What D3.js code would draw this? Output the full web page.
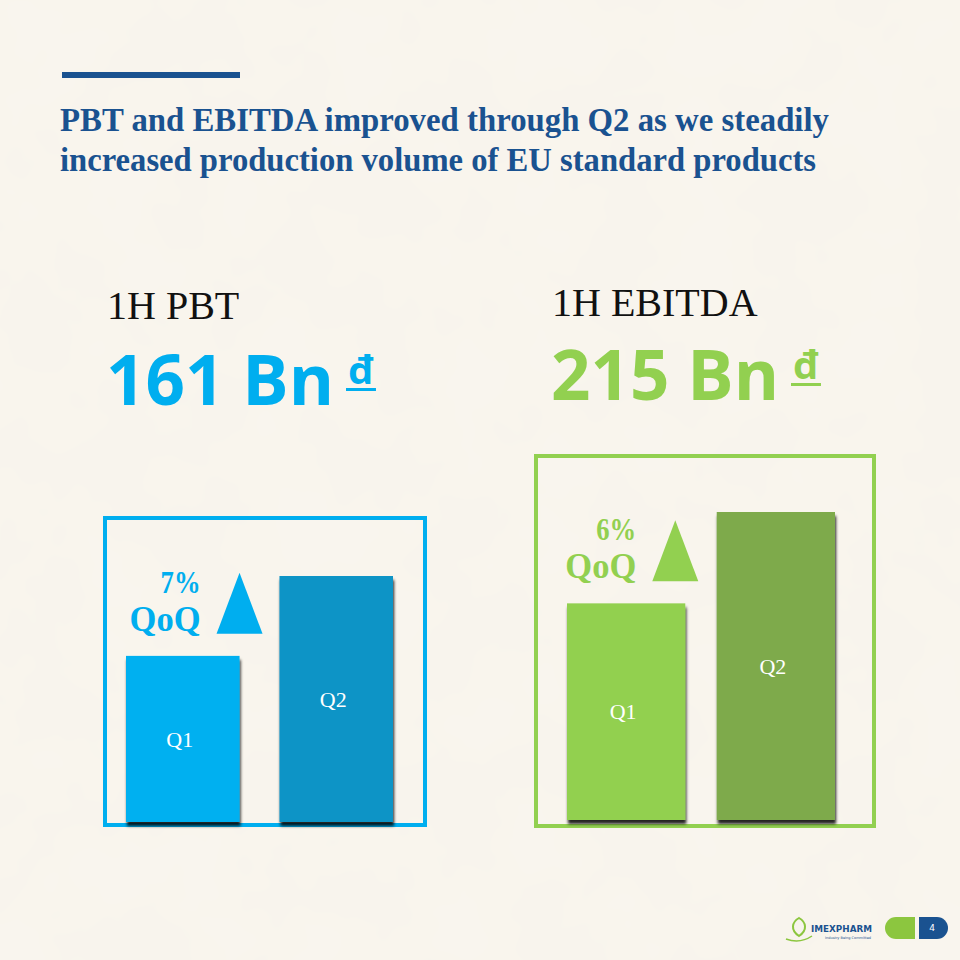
<!DOCTYPE html>
<html>
<head>
<meta charset="utf-8">
<script src="https://cdn.jsdelivr.net/npm/d3@7"></script>
<style>
  html, body { margin: 0; padding: 0; background: #f8f4ec; }
  svg { display: block; }
</style>
</head>
<body>
<div id="chart"></div>
<script>
// data
const quarters = ["Q1", "Q2"];
const pbtValues = [78, 83];        // Bn VND per quarter
const ebitdaValues = [104, 111];
const totals = ["161", "215"];
const headings = ["1H PBT", "1H EBITDA"];
const growthLabels = ["7%", "6%"];
const titleLines = [
    "PBT and EBITDA improved through Q2 as we steadily",
    "increased production volume of EU standard products"
];

const width = 960, height = 960;
const svg = d3.select("#chart")
    .append("svg")
    .attr("width", width)
    .attr("height", height)
    .attr("viewBox", [0, 0, width, height])
;

const defs = svg.append("defs");

// paper texture
const paper = defs.append("filter").attr("id", "paper")
    .attr("x", 0).attr("y", 0).attr("width", "100%").attr("height", "100%");
paper.append("feTurbulence")
    .attr("type", "fractalNoise")
    .attr("baseFrequency", 0.012)
    .attr("numOctaves", 3)
    .attr("seed", 4)
    .attr("result", "noise");
paper.append("feColorMatrix")
    .attr("in", "noise")
    .attr("type", "matrix")
    .attr("values", "0 0 0 0 0.85  0 0 0 0 0.82  0 0 0 0 0.72  0 0 0 0.08 0");

// bar shadow
const shadow = defs.append("filter").attr("id", "shadow")
    .attr("x", "-10%").attr("y", "-10%").attr("width", "120%").attr("height", "125%");
shadow.append("feDropShadow")
    .attr("dx", 1).attr("dy", 4)
    .attr("stdDeviation", 1.5)
    .attr("flood-color", "#000")
    .attr("flood-opacity", 0.85);

svg.append("rect")
    .attr("width", width).attr("height", height)
    .attr("fill", "#f9f5ee");
svg.append("rect")
    .attr("width", width).attr("height", height)
    .attr("filter", "url(#paper)");

// title block
svg.append("rect")
    .attr("x", 62).attr("y", 72)
    .attr("width", 178).attr("height", 6)
    .attr("fill", "#1a5290");

svg.selectAll("text.title")
    .data(titleLines)
    .enter()
    .append("text")
    .attr("class", "title")
    .attr("x", 60)
    .attr("y", (d, i) => 131 + i * 40)
    .attr("textLength", (d, i) => i === 0 ? 769 : 756)
    .attr("lengthAdjust", "spacingAndGlyphs")
    .style("font-family", "'Liberation Serif', 'DejaVu Serif', serif")
    .style("font-weight", "bold")
    .style("font-size", "34px")
    .style("fill", "#1a5290")
    .text(d => d)
;

const serif = "'Liberation Serif', 'DejaVu Serif', serif";
const sans = "'Open Sans', 'Noto Sans', sans-serif";

const panels = [
    {
        values: pbtValues, total: totals[0], heading: headings[0], growth: growthLabels[0],
        colors: ["#00b0f0", "#0f94c6"], accent: "#00aeef",
        box: [105, 518, 425, 825], xRange: [126, 393], padInner: 0.26,
        baseY: 822, floor: 67.6, top: 576, triOffset: 0,
        headX: 107, headY: 319, bigY: 405
    },
    {
        values: ebitdaValues, total: totals[1], heading: headings[1], growth: growthLabels[1],
        colors: ["#92d050", "#7eaa4b"], accent: "#92d050",
        box: [536, 456, 874, 826], xRange: [567, 835], padInner: 0.21,
        baseY: 820, floor: 87.4, top: 512, triOffset: -10,
        headX: 552, headY: 316, bigY: 400
    }
];

panels.forEach(p => {
    const g = svg.append("g");

    const x = d3.scaleBand()
        .domain(quarters)
        .range(p.xRange)
        .paddingInner(p.padInner)
        .paddingOuter(0);

    // value axis is truncated on the slide, so the floor is not zero
    const y = d3.scaleLinear()
        .domain([p.floor, d3.max(p.values)])
        .range([p.baseY, p.top]);

    g.append("text")
        .attr("x", p.headX).attr("y", p.headY)
        .style("font-family", serif)
        .style("font-size", "40px")
        .style("fill", "#111")
        .text(p.heading);

    const big = g.append("text")
        .attr("x", p.headX - 1).attr("y", p.bigY)
        .style("font-family", sans)
        .style("font-weight", "bold")
        .style("font-size", "69px")
        .style("fill", p.accent)
        .text(p.total + " Bn");

    const bigW = big.node().getComputedTextLength();
    const dx = p.headX - 1 + bigW + 14;
    const dong = g.append("text")
        .attr("x", dx).attr("y", p.bigY - 21)
        .style("font-family", sans)
        .style("font-weight", "bold")
        .style("font-size", "40px")
        .style("fill", p.accent)
        .text("đ");
    const dw = dong.node().getComputedTextLength();
    g.append("rect")
        .attr("x", dx - 2).attr("y", p.bigY - 17)
        .attr("width", dw + 4).attr("height", 3)
        .attr("fill", p.accent);

    // frame
    g.append("rect")
        .attr("x", p.box[0]).attr("y", p.box[1])
        .attr("width", p.box[2] - p.box[0])
        .attr("height", p.box[3] - p.box[1])
        .attr("fill", "none")
        .attr("stroke", p.accent)
        .attr("stroke-width", 4);

    const bars = g.selectAll("g.bar")
        .data(p.values.map((v, i) => ({ q: quarters[i], v: v, c: p.colors[i] })))
        .enter()
        .append("g")
        .attr("class", "bar");

    bars.append("rect")
        .attr("x", d => x(d.q))
        .attr("y", d => y(d.v))
        .attr("width", x.bandwidth())
        .attr("height", d => y.range()[0] - y(d.v))
        .attr("fill", d => d.c)
        .attr("filter", "url(#shadow)");

    bars.append("text")
        .attr("x", d => x(d.q) + x.bandwidth() / 2 - 3)
        .attr("y", d => (y(d.v) + y.range()[0]) / 2)
        .attr("dy", "0.35em")
        .attr("text-anchor", "middle")
        .style("font-family", serif)
        .style("font-size", "22px")
        .style("fill", "#fff")
        .text(d => d.q);

    // growth callout above Q1
    const q1Top = y(p.values[0]);
    const triCx = x("Q1") + x.bandwidth() + p.triOffset;
    const triBase = q1Top - 22;
    g.append("path")
        .attr("d", d3.line()([
            [triCx - 23, triBase],
            [triCx, triBase - 61],
            [triCx + 23, triBase]
        ]) + "Z")
        .attr("fill", p.accent);

    const labelRight = triCx - 23 - 16;
    g.append("text")
        .attr("x", labelRight).attr("y", q1Top - 63)
        .attr("text-anchor", "end")
        .attr("textLength", 40)
        .attr("lengthAdjust", "spacingAndGlyphs")
        .style("font-family", serif)
        .style("font-weight", "bold")
        .style("font-size", "32px")
        .style("fill", p.accent)
        .text(p.growth);
    g.append("text")
        .attr("x", labelRight).attr("y", q1Top - 25)
        .attr("text-anchor", "end")
        .attr("textLength", 71)
        .attr("lengthAdjust", "spacingAndGlyphs")
        .style("font-family", serif)
        .style("font-weight", "bold")
        .style("font-size", "35px")
        .style("fill", p.accent)
        .text("QoQ");
});

// footer: logo and page pill
const foot = svg.append("g");
foot.append("path")
    .attr("d", "M799,936 C790,930 792,922 799,918 C806,922 808,930 799,936 Z")
    .attr("fill", "none")
    .attr("stroke", "#8cc63f")
    .attr("stroke-width", 2);
foot.append("path")
    .attr("d", "M786,939 Q800,944 812,936")
    .attr("fill", "none")
    .attr("stroke", "#8cc63f")
    .attr("stroke-width", 1.5);
foot.append("text")
    .attr("x", 811).attr("y", 932)
    .style("font-family", "'DejaVu Sans', sans-serif")
    .style("font-weight", "bold")
    .style("font-size", "9px")
    .style("fill", "#1a5290")
    .attr("textLength", 61)
    .attr("lengthAdjust", "spacingAndGlyphs")
    .text("IMEXPHARM");
foot.append("text")
    .attr("x", 825).attr("y", 939)
    .style("font-family", "'DejaVu Sans', sans-serif")
    .style("font-size", "3.5px")
    .style("fill", "#1a5290")
    .text("Industry Being Committed");

foot.append("path")
    .attr("d", "M915,917 L896,917 A11,11 0 0 0 896,939 L915,939 Z")
    .attr("fill", "#8cc63f");
foot.append("path")
    .attr("d", "M919,917 L937,917 A11,11 0 0 1 937,939 L919,939 Z")
    .attr("fill", "#1a5290");
foot.append("text")
    .attr("x", 932).attr("y", 928)
    .attr("dy", "0.35em")
    .attr("text-anchor", "middle")
    .style("font-family", "'DejaVu Sans', sans-serif")
    .style("font-size", "9px")
    .style("fill", "#fff")
    .text("4");
</script>
</body>
</html>
